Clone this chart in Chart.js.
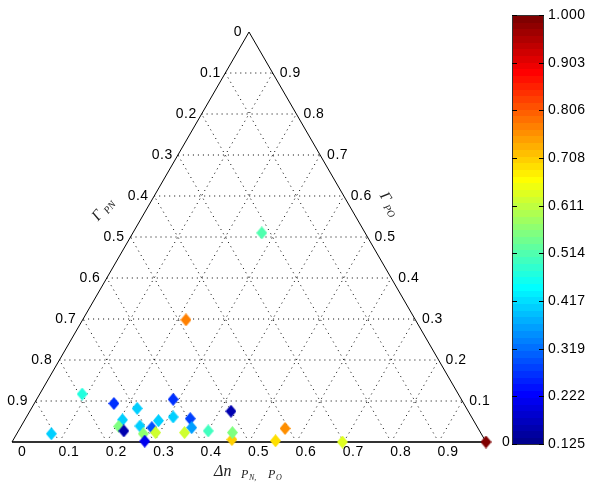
<!DOCTYPE html>
<html>
<head>
<meta charset="utf-8">
<script src="https://cdn.jsdelivr.net/npm/chart.js@4.4.1/dist/chart.umd.min.js"></script>
<style>
  html, body { margin: 0; padding: 0; background: #fff; }
  canvas { display: block; }
</style>
</head>
<body>
<canvas id="ternChart" width="589" height="483"></canvas>
<script>
// tick labels
const bottomTicks = [0, 0.1, 0.2, 0.3, 0.4, 0.5, 0.6, 0.7, 0.8, 0.9];
const leftTicks = [0, 0.1, 0.2, 0.3, 0.4, 0.5, 0.6, 0.7, 0.8, 0.9];
const rightTicks = [0.9, 0.8, 0.7, 0.6, 0.5, 0.4, 0.3, 0.2, 0.1, 0];
const colorbarTicks = ["1.000", "0.903", "0.806", "0.708", "0.611", "0.514", "0.417", "0.319", "0.222", "0.125"];
const cMin = 0.125;
const cMax = 1.0;

// points: position along the base, depth (left axis value), colour value
const pointX = [0.083, 0.148, 0.215, 0.233, 0.225, 0.236, 0.264, 0.270, 0.277, 0.295,
  0.309, 0.303, 0.340, 0.340, 0.376, 0.379, 0.364, 0.414, 0.462, 0.464,
  0.465, 0.556, 0.576, 0.367, 0.527, 0.697, 0.280, 1.0];
const pointDepth = [0.980, 0.883, 0.906, 0.946, 0.962, 0.973, 0.918, 0.961, 0.980, 0.965,
  0.948, 0.977, 0.896, 0.939, 0.943, 0.965, 0.977, 0.973, 0.925, 0.994,
  0.977, 0.997, 0.967, 0.702, 0.490, 1.0, 0.998, 1.0];
const pointValue = [0.41, 0.47, 0.27, 0.41, 0.56, 0.16, 0.41, 0.41, 0.57, 0.30,
  0.41, 0.62, 0.27, 0.40, 0.28, 0.36, 0.62, 0.50, 0.16, 0.70,
  0.56, 0.69, 0.76, 0.77, 0.51, 0.64, 0.22, 1.0];

// MATLAB jet(64)
function jet(m) {
  const n = Math.ceil(m / 4);
  const u = [];
  for (let i = 1; i <= n; i++) u.push(i / n);
  for (let i = 1; i < n; i++) u.push(1);
  for (let i = n; i >= 1; i--) u.push(i / n);
  const J = [];
  for (let i = 0; i < m; i++) J.push([0, 0, 0]);
  const g0 = Math.ceil(n / 2) - (m % 4 === 1 ? 1 : 0);
  u.forEach((val, k) => {
    const gi = g0 + k + 1, ri = gi + n, bi = gi - n;
    if (gi >= 1 && gi <= m) J[gi - 1][1] = val;
    if (ri >= 1 && ri <= m) J[ri - 1][0] = val;
    if (bi >= 1 && bi <= m) J[bi - 1][2] = val;
  });
  return J.map(c => `rgb(${Math.round(c[0] * 255)},${Math.round(c[1] * 255)},${Math.round(c[2] * 255)})`);
}
const cmap = jet(64);

function colorFor(v) {
  let i = Math.floor((v - cMin) / (cMax - cMin) * cmap.length);
  i = Math.max(0, Math.min(cmap.length - 1, i));
  return cmap[i];
}

function diamond(color) {
  const c = document.createElement("canvas");
  c.width = 11;
  c.height = 13;
  const g = c.getContext("2d");
  g.fillStyle = color;
  g.beginPath();
  g.moveTo(5.5, 0);
  g.lineTo(11, 6.5);
  g.lineTo(5.5, 13);
  g.lineTo(0, 6.5);
  g.closePath();
  g.fill();
  return c;
}
const markers = pointValue.map(v => diamond(colorFor(v)));

// triangle outline and dotted grid, built from the tick arrays
const outline = [{ x: 0, y: 1 }, { x: 0.5, y: 0 }, { x: 1, y: 1 }];
const baseLine = [{ x: 0, y: 1 }, { x: 1, y: 1 }];
const gridLines = [];
bottomTicks.slice(1).forEach(t => {
  gridLines.push({ x: 0.5 * (1 - t), y: t }, { x: 0.5 * (1 + t), y: t }, { x: NaN, y: NaN });
  gridLines.push({ x: t, y: 1 }, { x: 0.5 * (1 + t), y: t }, { x: NaN, y: NaN });
  gridLines.push({ x: t, y: 1 }, { x: 0.5 * t, y: 1 - t }, { x: NaN, y: NaN });
});

const FONT = '14px "Liberation Sans", Arial, sans-serif';

const ternaryText = {
  id: "ternaryText",
  afterDraw(chart) {
    const ctx = chart.ctx;
    const xs = chart.scales.x, ys = chart.scales.y;
    ctx.save();
    ctx.fillStyle = "#000";
    ctx.font = FONT;
    ctx.letterSpacing = "0.5px";
    ctx.textBaseline = "middle";

    // left axis
    ctx.textAlign = "right";
    leftTicks.forEach(t => {
      const px = xs.getPixelForValue(0.5 * (1 - t));
      const py = ys.getPixelForValue(t);
      const gap = t === 0 ? 7 : 4 + 4 * t;
      ctx.fillText(String(t), px - gap, py);
    });

    // right axis
    ctx.textAlign = "left";
    rightTicks.forEach(t => {
      const d = 1 - t;
      const px = xs.getPixelForValue(0.5 * (1 + d));
      const py = ys.getPixelForValue(d);
      ctx.fillText(String(t), px + (t === 0 ? 16 : 7), py);
    });

    // bottom axis
    bottomTicks.forEach(t => {
      const px = xs.getPixelForValue(t);
      ctx.fillText(String(t), px + (t === 0 ? 6 : -1), ys.bottom + 10);
    });

    // axis titles
    ctx.letterSpacing = "0px";
    ctx.fillStyle = "#222";
    ctx.font = 'italic 16px "Liberation Serif", serif';
    ctx.textAlign = "left";
    ctx.textBaseline = "alphabetic";
    ctx.fillText("Δn", 214, 476);
    ctx.font = 'italic 12px "Liberation Serif", serif';
    ctx.fillText("P", 241, 478);
    ctx.fillText("P", 268, 478);
    ctx.font = 'italic 8px "Liberation Serif", serif';
    ctx.fillText("N,", 249, 480);
    ctx.fillText("O", 276, 480);

    ctx.textAlign = "center";
    ctx.save();
    ctx.font = 'italic 15px "Liberation Serif", serif';
    ctx.translate(106, 212);
    ctx.rotate(-50 * Math.PI / 180);
    ctx.fillText("Γ", -8, 0);
    ctx.font = 'italic 10px "Liberation Serif", serif';
    ctx.fillText("PN", 6, 3);
    ctx.restore();

    ctx.save();
    ctx.font = 'italic 15px "Liberation Serif", serif';
    ctx.translate(386, 206);
    ctx.rotate(58 * Math.PI / 180);
    ctx.fillText("Γ", -8, 0);
    ctx.font = 'italic 10px "Liberation Serif", serif';
    ctx.fillText("PO", 6, 3);
    ctx.restore();

    // colour bar
    const cbL = 512, cbR = 544, cbT = 15, cbB = 444;
    const n = cmap.length;
    for (let i = 0; i < n; i++) {
      const y0 = cbB - (i + 1) * (cbB - cbT) / n;
      ctx.fillStyle = cmap[i];
      ctx.fillRect(cbL, Math.floor(y0), cbR - cbL, Math.ceil((cbB - cbT) / n) + 1);
    }
    ctx.strokeStyle = "#333";
    ctx.lineWidth = 1;
    ctx.strokeRect(cbL + 0.5, cbT + 0.5, cbR - cbL - 1, cbB - cbT);
    ctx.fillStyle = "#000";
    ctx.font = FONT;
    ctx.letterSpacing = "0.5px";
    ctx.textAlign = "left";
    ctx.textBaseline = "middle";
    colorbarTicks.forEach(lbl => {
      const v = parseFloat(lbl);
      const y = Math.round(cbB - (v - cMin) / (cMax - cMin) * (cbB - cbT)) + 0.5;
      ctx.beginPath();
      ctx.moveTo(cbL, y); ctx.lineTo(cbL + 5, y);
      ctx.moveTo(cbR - 5, y); ctx.lineTo(cbR, y);
      ctx.strokeStyle = "#000";
      ctx.stroke();
      ctx.fillText(lbl, 548, y);
    });
    ctx.restore();
  }
};

new Chart(document.getElementById("ternChart").getContext("2d"), {
  type: "scatter",
  data: {
    datasets: [
      {
        data: pointX.map((x, i) => ({ x: x, y: pointDepth[i] })),
        pointStyle: ctx => markers[ctx.dataIndex],
        pointRadius: 6,
        clip: false,
        order: 0,
      },
      {
        data: outline,
        showLine: true,
        borderColor: "#000",
        borderWidth: 1,
        pointRadius: 0,
        clip: false,
        order: 1,
      },
      {
        data: baseLine,
        showLine: true,
        borderColor: "#333",
        borderWidth: 2,
        pointRadius: 0,
        clip: false,
        order: 1,
      },
      {
        data: gridLines,
        showLine: true,
        spanGaps: false,
        borderColor: "#000",
        borderWidth: 1,
        borderDash: [1, 4],
        pointRadius: 0,
        clip: false,
        order: 2,
      },
    ],
  },
  options: {
    responsive: false,
    animation: false,
    events: [],
    layout: { padding: { left: 12, right: 103, top: 32, bottom: 41 } },
    plugins: { legend: { display: false }, tooltip: { enabled: false } },
    scales: {
      x: { type: "linear", min: 0, max: 1, display: false },
      y: { type: "linear", min: 0, max: 1, reverse: true, display: false },
    },
  },
  plugins: [ternaryText],
});
</script>
</body>
</html>
